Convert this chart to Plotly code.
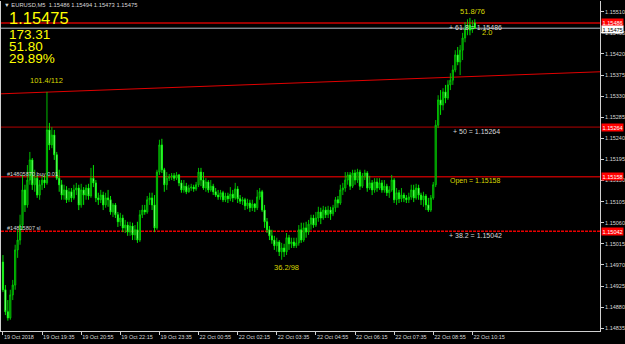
import plotly.graph_objects as go

# ---------------- data (EURUSD M5, 19 Oct 2018 18:15 -> 22 Oct 2018 10:20) ----------------
opens = [1.14976, 1.14917, 1.14870, 1.14857, 1.14906, 1.14927, 1.15002, 1.15023, 1.15055, 1.15130,
         1.15098, 1.15151, 1.15194, 1.15141, 1.15155, 1.15119, 1.15141, 1.15151, 1.15145, 1.15258,
         1.15226, 1.15247, 1.15205, 1.15155, 1.15141, 1.15119, 1.15130, 1.15109, 1.15126, 1.15113,
         1.15130, 1.15134, 1.15098, 1.15130, 1.15119, 1.15134, 1.15117, 1.15155, 1.15145, 1.15113,
         1.15109, 1.15119, 1.15098, 1.15113, 1.15109, 1.15083, 1.15098, 1.15077, 1.15062, 1.15070,
         1.15049, 1.15055, 1.15040, 1.15053, 1.15034, 1.15045, 1.15023, 1.15077, 1.15087, 1.15083,
         1.15109, 1.15113, 1.15098, 1.15049, 1.15168, 1.15226, 1.15173, 1.15141, 1.15155, 1.15158,
         1.15160, 1.15155, 1.15162, 1.15145, 1.15130, 1.15138, 1.15126, 1.15134, 1.15136, 1.15132,
         1.15141, 1.15168, 1.15151, 1.15134, 1.15147, 1.15130, 1.15138, 1.15126, 1.15119, 1.15115,
         1.15124, 1.15109, 1.15117, 1.15111, 1.15121, 1.15113, 1.15132, 1.15111, 1.15106, 1.15109,
         1.15096, 1.15102, 1.15092, 1.15100, 1.15092, 1.15115, 1.15126, 1.15087, 1.15062, 1.15045,
         1.15032, 1.15023, 1.15011, 1.15019, 1.14998, 1.15006, 1.14998, 1.15028, 1.15015, 1.15019,
         1.15011, 1.15017, 1.15045, 1.15023, 1.15049, 1.15040, 1.15057, 1.15070, 1.15055, 1.15070,
         1.15083, 1.15070, 1.15087, 1.15077, 1.15087, 1.15079, 1.15092, 1.15109, 1.15102, 1.15130,
         1.15134, 1.15151, 1.15162, 1.15138, 1.15166, 1.15151, 1.15168, 1.15138, 1.15160, 1.15166,
         1.15134, 1.15145, 1.15130, 1.15147, 1.15134, 1.15145, 1.15130, 1.15138, 1.15124, 1.15130,
         1.15151, 1.15109, 1.15124, 1.15111, 1.15119, 1.15113, 1.15109, 1.15115, 1.15130, 1.15113,
         1.15134, 1.15119, 1.15109, 1.15117, 1.15098, 1.15087, 1.15113, 1.15141, 1.15268, 1.15322,
         1.15311, 1.15339, 1.15326, 1.15354, 1.15364, 1.15386, 1.15418, 1.15403, 1.15428, 1.15454,
         1.15475, 1.15482, 1.15471, 1.15486]

highs = [1.14991, 1.14927, 1.14895, 1.14917, 1.14938, 1.15013, 1.15045, 1.15077, 1.15162, 1.15141,
         1.15183, 1.15211, 1.15198, 1.15173, 1.15162, 1.15151, 1.15162, 1.15160, 1.15339, 1.15273,
         1.15264, 1.15258, 1.15211, 1.15173, 1.15151, 1.15141, 1.15138, 1.15134, 1.15134, 1.15141,
         1.15145, 1.15141, 1.15143, 1.15136, 1.15141, 1.15143, 1.15177, 1.15183, 1.15151, 1.15124,
         1.15130, 1.15126, 1.15124, 1.15130, 1.15117, 1.15102, 1.15102, 1.15083, 1.15081, 1.15077,
         1.15066, 1.15062, 1.15062, 1.15060, 1.15055, 1.15062, 1.15087, 1.15098, 1.15098, 1.15117,
         1.15124, 1.15124, 1.15119, 1.15173, 1.15237, 1.15239, 1.15177, 1.15168, 1.15164, 1.15166,
         1.15166, 1.15168, 1.15164, 1.15151, 1.15151, 1.15145, 1.15141, 1.15143, 1.15141, 1.15147,
         1.15177, 1.15177, 1.15168, 1.15155, 1.15151, 1.15151, 1.15143, 1.15134, 1.15130, 1.15130,
         1.15128, 1.15124, 1.15124, 1.15136, 1.15130, 1.15145, 1.15138, 1.15119, 1.15115, 1.15113,
         1.15111, 1.15109, 1.15109, 1.15102, 1.15130, 1.15134, 1.15130, 1.15098, 1.15070, 1.15053,
         1.15045, 1.15032, 1.15028, 1.15023, 1.15017, 1.15015, 1.15038, 1.15034, 1.15028, 1.15028,
         1.15028, 1.15055, 1.15060, 1.15060, 1.15062, 1.15066, 1.15077, 1.15077, 1.15083, 1.15094,
         1.15092, 1.15096, 1.15094, 1.15096, 1.15094, 1.15098, 1.15115, 1.15117, 1.15141, 1.15145,
         1.15168, 1.15168, 1.15168, 1.15173, 1.15173, 1.15175, 1.15173, 1.15166, 1.15173, 1.15170,
         1.15160, 1.15151, 1.15155, 1.15155, 1.15155, 1.15151, 1.15151, 1.15143, 1.15138, 1.15162,
         1.15155, 1.15134, 1.15130, 1.15134, 1.15124, 1.15119, 1.15124, 1.15141, 1.15141, 1.15143,
         1.15141, 1.15124, 1.15126, 1.15121, 1.15113, 1.15119, 1.15147, 1.15279, 1.15332, 1.15343,
         1.15347, 1.15354, 1.15364, 1.15379, 1.15396, 1.15428, 1.15435, 1.15439, 1.15465, 1.15488,
         1.15494, 1.15497, 1.15492, 1.15494]

lows = [1.14912, 1.14863, 1.14851, 1.14853, 1.14895, 1.14917, 1.14985, 1.15013, 1.15045, 1.15083,
        1.15092, 1.15141, 1.15130, 1.15126, 1.15113, 1.15109, 1.15130, 1.15134, 1.15141, 1.15215,
        1.15219, 1.15194, 1.15151, 1.15126, 1.15109, 1.15109, 1.15102, 1.15104, 1.15104, 1.15109,
        1.15119, 1.15087, 1.15092, 1.15098, 1.15109, 1.15109, 1.15113, 1.15136, 1.15104, 1.15098,
        1.15102, 1.15087, 1.15092, 1.15094, 1.15077, 1.15072, 1.15070, 1.15051, 1.15053, 1.15040,
        1.15038, 1.15032, 1.15032, 1.15023, 1.15023, 1.15017, 1.15019, 1.15070, 1.15077, 1.15079,
        1.15098, 1.15087, 1.15040, 1.15045, 1.15162, 1.15166, 1.15126, 1.15130, 1.15149, 1.15151,
        1.15149, 1.15151, 1.15138, 1.15124, 1.15124, 1.15121, 1.15124, 1.15128, 1.15126, 1.15128,
        1.15136, 1.15138, 1.15130, 1.15126, 1.15124, 1.15126, 1.15119, 1.15115, 1.15109, 1.15109,
        1.15104, 1.15104, 1.15102, 1.15106, 1.15104, 1.15109, 1.15102, 1.15100, 1.15098, 1.15087,
        1.15089, 1.15083, 1.15085, 1.15083, 1.15087, 1.15109, 1.15083, 1.15049, 1.15038, 1.15023,
        1.15015, 1.15002, 1.14998, 1.14989, 1.14981, 1.14987, 1.14991, 1.15002, 1.15006, 1.15006,
        1.15006, 1.15011, 1.15017, 1.15019, 1.15028, 1.15034, 1.15045, 1.15049, 1.15051, 1.15062,
        1.15057, 1.15066, 1.15070, 1.15070, 1.15066, 1.15074, 1.15083, 1.15092, 1.15098, 1.15119,
        1.15126, 1.15141, 1.15130, 1.15134, 1.15141, 1.15145, 1.15130, 1.15134, 1.15151, 1.15126,
        1.15130, 1.15119, 1.15124, 1.15126, 1.15130, 1.15124, 1.15124, 1.15117, 1.15113, 1.15126,
        1.15102, 1.15098, 1.15102, 1.15104, 1.15104, 1.15102, 1.15102, 1.15109, 1.15104, 1.15109,
        1.15109, 1.15098, 1.15094, 1.15087, 1.15083, 1.15083, 1.15109, 1.15136, 1.15262, 1.15290,
        1.15300, 1.15315, 1.15322, 1.15343, 1.15354, 1.15381, 1.15396, 1.15375, 1.15407, 1.15445,
        1.15460, 1.15460, 1.15465, 1.15473]

closes = [1.14917, 1.14870, 1.14857, 1.14906, 1.14927, 1.15002, 1.15023, 1.15055, 1.15130, 1.15098,
          1.15151, 1.15194, 1.15141, 1.15155, 1.15119, 1.15141, 1.15151, 1.15145, 1.15258, 1.15226,
          1.15247, 1.15205, 1.15155, 1.15141, 1.15119, 1.15130, 1.15109, 1.15126, 1.15113, 1.15130,
          1.15134, 1.15098, 1.15130, 1.15119, 1.15134, 1.15117, 1.15155, 1.15145, 1.15113, 1.15109,
          1.15119, 1.15098, 1.15113, 1.15109, 1.15083, 1.15098, 1.15077, 1.15062, 1.15070, 1.15049,
          1.15055, 1.15040, 1.15053, 1.15034, 1.15045, 1.15023, 1.15077, 1.15087, 1.15083, 1.15109,
          1.15113, 1.15098, 1.15049, 1.15168, 1.15226, 1.15173, 1.15141, 1.15155, 1.15158, 1.15160,
          1.15155, 1.15162, 1.15145, 1.15130, 1.15138, 1.15126, 1.15134, 1.15136, 1.15132, 1.15141,
          1.15168, 1.15151, 1.15134, 1.15147, 1.15130, 1.15138, 1.15126, 1.15119, 1.15115, 1.15124,
          1.15109, 1.15117, 1.15111, 1.15121, 1.15113, 1.15132, 1.15111, 1.15106, 1.15109, 1.15096,
          1.15102, 1.15092, 1.15100, 1.15092, 1.15115, 1.15126, 1.15087, 1.15062, 1.15045, 1.15032,
          1.15023, 1.15011, 1.15019, 1.14998, 1.15006, 1.14998, 1.15028, 1.15015, 1.15019, 1.15011,
          1.15017, 1.15045, 1.15023, 1.15049, 1.15040, 1.15057, 1.15070, 1.15055, 1.15070, 1.15083,
          1.15070, 1.15087, 1.15077, 1.15087, 1.15079, 1.15092, 1.15109, 1.15102, 1.15130, 1.15134,
          1.15151, 1.15162, 1.15138, 1.15166, 1.15151, 1.15168, 1.15138, 1.15160, 1.15166, 1.15134,
          1.15145, 1.15130, 1.15147, 1.15134, 1.15145, 1.15130, 1.15138, 1.15124, 1.15130, 1.15151,
          1.15109, 1.15124, 1.15111, 1.15119, 1.15113, 1.15109, 1.15115, 1.15130, 1.15113, 1.15134,
          1.15119, 1.15109, 1.15117, 1.15098, 1.15087, 1.15113, 1.15141, 1.15268, 1.15322, 1.15311,
          1.15339, 1.15326, 1.15354, 1.15364, 1.15386, 1.15418, 1.15403, 1.15428, 1.15454, 1.15475,
          1.15482, 1.15471, 1.15477, 1.15475]

time_tick_labels = ["19 Oct 2018", "19 Oct 19:35", "19 Oct 20:55", "19 Oct 22:15", "19 Oct 23:35",
                    "22 Oct 00:55", "22 Oct 02:15", "22 Oct 03:35", "22 Oct 04:55", "22 Oct 06:15",
                    "22 Oct 07:35", "22 Oct 08:55", "22 Oct 10:15"]
bars_per_label = 16

price_ticks = [1.14835, 1.14880, 1.14925, 1.14970, 1.15015, 1.15060, 1.15105, 1.15150,
               1.15195, 1.15240, 1.15285, 1.15330, 1.15375, 1.15420, 1.15465, 1.15510]

fib_levels = [1.15486, 1.15264, 1.15158, 1.15042]
fib_texts = ["+ 61.8 = 1.15486", "+ 50 = 1.15264", "Open = 1.15158", "+ 38.2 = 1.15042"]
bid_price = 1.15475
trend_prices = [1.15335, 1.15382]
header_text = "▼ EURUSD,M5  1.15486 1.15494 1.15473 1.15475"
info_texts = ["1.15475", "173.31", "51.80", "29.89%"]
swing_labels = ["101.4/112", "36.2/98", "51.8/76"]
order_labels = ["#14805870 buy 0.01", "#14815807 sl"]

# ---------------- figure ----------------
N = len(closes)
bar_index = list(range(N))

W, H = 625, 344
ML, MR, MT, MB = 1, 25, 1, 13
PW, PH = W - ML - MR, H - MT - MB


def px(x):
    return (x - ML) / PW


def py(y):
    return 1 - (y - MT) / PH


YELLOW = "#ffff00"
GOLD = "#d8d800"
LIGHT = "#d8d8d8"
FONT = "Liberation Sans"

fig = go.Figure(go.Candlestick(
    x=bar_index, open=opens, high=highs, low=lows, close=closes,
    increasing=dict(line=dict(color="#00d000", width=0.9), fillcolor="#005000"),
    decreasing=dict(line=dict(color="#00ff00", width=0.9), fillcolor="#f0fff0"),
    whiskerwidth=0, hoverinfo="skip", showlegend=False,
))

shapes = []
# trend line
shapes.append(dict(type="line", xref="paper", yref="y", x0=0, x1=1,
                   y0=trend_prices[0], y1=trend_prices[1],
                   line=dict(color="#e00000", width=1), layer="below"))
level_styles = [dict(color="#9a0000", width=2), dict(color="#b40000", width=1),
                dict(color="#b40000", width=1.5), dict(color="#e80000", width=1.5, dash="3px,1px")]
for lv, st in zip(fib_levels, level_styles):
    shapes.append(dict(type="line", xref="paper", yref="y", x0=0, x1=1, y0=lv, y1=lv,
                       line=st, layer="below"))
shapes.append(dict(type="line", xref="paper", yref="y", x0=0, x1=1, y0=bid_price, y1=bid_price,
                   line=dict(color="#b8c0cc", width=1), layer="below"))

ann = []
# header
ann.append(dict(text=header_text, xref="paper", yref="paper", x=px(2), y=py(5),
                xanchor="left", yanchor="middle", showarrow=False,
                font=dict(family=FONT, size=5.8, color=LIGHT)))
# info block
info_pos = [(17.8, 16.5), (34.3, 13.5), (46.2, 13.5), (58.3, 13.5)]
for t, (yc, sz) in zip(info_texts, info_pos):
    ann.append(dict(text=t, xref="paper", yref="paper", x=px(7), y=py(yc),
                    xanchor="left", yanchor="middle", showarrow=False,
                    font=dict(family=FONT, size=sz, color=YELLOW)))
# swing labels
swing_pos = [(28, 80.5), (272, 267), (458, 11.5)]
for t, (xl, yc) in zip(swing_labels, swing_pos):
    ann.append(dict(text=t, xref="paper", yref="paper", x=px(xl), y=py(yc),
                    xanchor="left", yanchor="middle", showarrow=False,
                    font=dict(family=FONT, size=7.5, color=GOLD)))
# fib level texts
fib_x = [447, 451, 448, 447]
for t, lv, xl in zip(fib_texts, fib_levels, fib_x):
    ann.append(dict(text=t, xref="paper", yref="y", x=px(xl), y=lv, yshift=-4.5,
                    xanchor="left", yanchor="middle", showarrow=False,
                    font=dict(family=FONT, size=7, color=GOLD if t.startswith("Open") else LIGHT)))
ann.append(dict(text="2.0", xref="paper", yref="paper", x=px(480), y=py(33),
                xanchor="left", yanchor="middle", showarrow=False,
                font=dict(family=FONT, size=7.5, color=GOLD)))
# order labels
for t, lv in zip(order_labels, [fib_levels[2], fib_levels[3]]):
    ann.append(dict(text=t, xref="paper", yref="y", x=px(5), y=lv, yshift=3,
                    xanchor="left", yanchor="middle", showarrow=False,
                    font=dict(family=FONT, size=5.6, color=LIGHT)))
# right-axis price boxes
for lv in fib_levels:
    ann.append(dict(text=f"{lv:.5f}", xref="paper", yref="y", x=1, y=lv,
                    yshift=1 if lv == fib_levels[0] else 0, xshift=1,
                    xanchor="left", yanchor="middle", showarrow=False, bgcolor="#ff0000",
                    borderpad=0.5, font=dict(family=FONT, size=5.6, color="white")))
ann.append(dict(text=f"{bid_price:.5f}", xref="paper", yref="y", x=1, y=bid_price, yshift=-1.5,
                xshift=1, xanchor="left", yanchor="middle", showarrow=False, bgcolor="#ffffff",
                borderpad=0.5, font=dict(family=FONT, size=5.6, color="black")))

x_tickvals = [k * bars_per_label for k in range(len(time_tick_labels))]

fig.update_layout(
    width=W, height=H, margin=dict(l=ML, r=MR, t=MT, b=MB, autoexpand=False),
    paper_bgcolor="black", plot_bgcolor="black", showlegend=False,
    shapes=shapes, annotations=ann,
    xaxis=dict(range=[-0.8, 244.2], rangeslider=dict(visible=False), showgrid=False,
               zeroline=False, tickvals=x_tickvals, ticktext=time_tick_labels, tickangle=0,
               ticks="outside", ticklen=3, tickcolor="#d0d0d0", ticklabelposition="outside right",
               tickfont=dict(family=FONT, size=5.5, color=LIGHT), automargin=False,
               showline=True, linecolor="#d0d0d0", linewidth=1, fixedrange=True),
    yaxis=dict(side="right", range=[1.14829, 1.15533], showgrid=False, zeroline=False,
               tickvals=price_ticks, ticktext=[f"{p:.5f}" for p in price_ticks],
               ticks="outside", ticklen=3, tickcolor="#d0d0d0", automargin=False,
               tickfont=dict(family=FONT, size=5.5, color=LIGHT),
               showline=True, mirror=True, linecolor="#d0d0d0", linewidth=1, fixedrange=True),
)

fig.write_html("out.html")
